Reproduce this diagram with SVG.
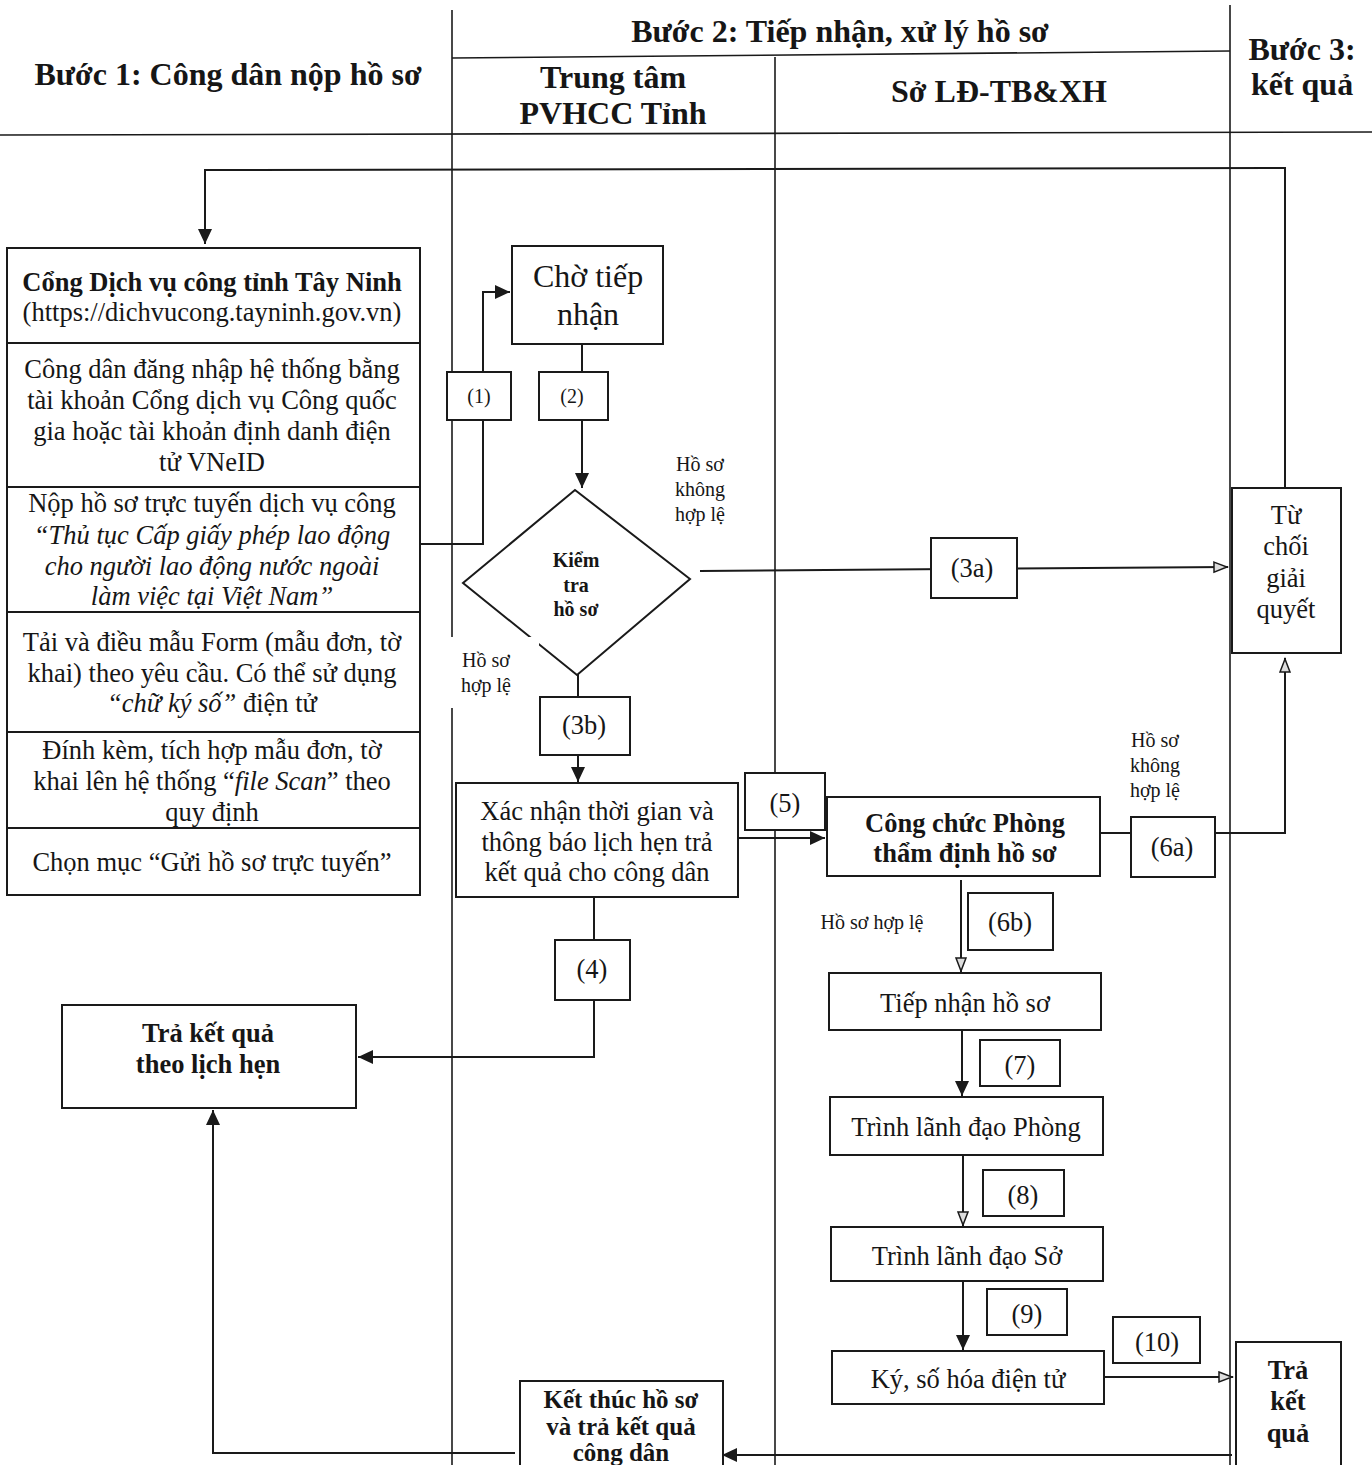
<svg xmlns="http://www.w3.org/2000/svg" width="1372" height="1465" viewBox="0 0 1372 1465">
<defs>
<style>
.t{font-family:"Liberation Serif","Times New Roman",serif;fill:#161616;text-anchor:middle}
.b{font-weight:bold}
.i{font-style:italic}
.s25{font-size:26.5px}
.s28{font-size:32px}
.s20{font-size:20px}
.box{fill:#fff;stroke:#1a1a1a;stroke-width:2}
.ln{fill:none;stroke:#1a1a1a;stroke-width:2}
.lane{fill:none;stroke:#1a1a1a;stroke-width:1.6}
</style>
<marker id="af" markerUnits="userSpaceOnUse" markerWidth="16" markerHeight="14" refX="15" refY="7" orient="auto">
<path d="M0,0 L15,7 L0,14 z" fill="#1a1a1a"/>
</marker>
<marker id="ao" markerUnits="userSpaceOnUse" markerWidth="16" markerHeight="14" refX="15" refY="6" orient="auto">
<path d="M1,1 L14,6 L1,11 z" fill="#ddd" stroke="#1a1a1a" stroke-width="1.5"/>
</marker>
</defs>
<rect width="1372" height="1465" fill="#fff"/>

<g id="lanes">
<line class="lane" x1="452" y1="10" x2="452" y2="1465"/>
<line class="lane" x1="775" y1="57" x2="775" y2="1465"/>
<line class="lane" x1="1230" y1="5" x2="1230" y2="1465"/>
<line class="lane" x1="452" y1="58" x2="1230" y2="51" stroke-width="2.2"/>
<line class="lane" x1="0" y1="135" x2="1372" y2="132" stroke-width="2.2"/>
<text class="t b s28" x="228" y="85">Bước 1: Công dân nộp hồ sơ</text>
<text class="t b s28" x="840" y="42">Bước 2: Tiếp nhận, xử lý hồ sơ</text>
<text class="t b s28" x="613" y="88">Trung tâm</text>
<text class="t b s28" x="613" y="124">PVHCC Tỉnh</text>
<text class="t s28" x="999" y="102" style="font-weight:600">Sở LĐ-TB&amp;XH</text>
<text class="t b s28" x="1302" y="60">Bước 3:</text>
<text class="t b s28" x="1302" y="95">kết quả</text>
</g>

<g id="connectors">
<polyline class="ln" points="1285,488 1285,168 205,170 205,244" marker-end="url(#af)"/>
<polyline class="ln" points="420,544 483,544 483,292 510,292" marker-end="url(#af)"/>
<polyline class="ln" points="582,344 582,488" marker-end="url(#af)"/>
<polyline class="ln" points="700,571 1228,567" marker-end="url(#ao)"/>
<line class="ln" x1="578" y1="657" x2="578" y2="697"/>
<polyline class="ln" points="578,755 578,782" marker-end="url(#af)"/>
<polyline class="ln" points="738,838 825,838" marker-end="url(#af)"/>
<polyline class="ln" points="1100,833 1285,833 1285,658" marker-end="url(#ao)"/>
<polyline class="ln" points="961,880 961,972" marker-end="url(#ao)"/>
<polyline class="ln" points="962,1030 962,1096" marker-end="url(#af)"/>
<polyline class="ln" points="963,1155 963,1226" marker-end="url(#ao)"/>
<polyline class="ln" points="963,1281 963,1350" marker-end="url(#af)"/>
<polyline class="ln" points="1104,1377 1233,1377" marker-end="url(#ao)"/>
<polyline class="ln" points="594,897 594,1057 358,1057" marker-end="url(#af)"/>
<polyline class="ln" points="1232,1455 722,1455" marker-end="url(#af)"/>
<polyline class="ln" points="515,1453 213,1453 213,1110" marker-end="url(#af)"/>
</g>

<g id="cong-dich-vu">
<rect class="box" x="7" y="248" width="413" height="647"/>
<line class="ln" x1="7" y1="343" x2="420" y2="343"/>
<line class="ln" x1="7" y1="487" x2="420" y2="487"/>
<line class="ln" x1="7" y1="612" x2="420" y2="612"/>
<line class="ln" x1="7" y1="732" x2="420" y2="732"/>
<line class="ln" x1="7" y1="828" x2="420" y2="828"/>
<text class="t b s25" x="212" y="291">Cổng Dịch vụ công tỉnh Tây Ninh</text>
<text class="t s25" x="212" y="321">(https://dichvucong.tayninh.gov.vn)</text>
<text class="t s25" x="212" y="378">Công dân đăng nhập hệ thống bằng</text>
<text class="t s25" x="212" y="409">tài khoản Cổng dịch vụ Công quốc</text>
<text class="t s25" x="212" y="440">gia hoặc tài khoản định danh điện</text>
<text class="t s25" x="212" y="471">tử VNeID</text>
<text class="t s25" x="212" y="512">Nộp hồ sơ trực tuyến dịch vụ công</text>
<text class="t i s25" x="212" y="544">“Thủ tục Cấp giấy phép lao động</text>
<text class="t i s25" x="212" y="575">cho người lao động nước ngoài</text>
<text class="t i s25" x="212" y="605">làm việc tại Việt Nam”</text>
<text class="t s25" x="212" y="651">Tải và điều mẫu Form (mẫu đơn, tờ</text>
<text class="t s25" x="212" y="682">khai) theo yêu cầu. Có thể sử dụng</text>
<text class="t s25" x="212" y="712"><tspan class="i">“chữ ký số”</tspan> điện tử</text>
<text class="t s25" x="212" y="759">Đính kèm, tích hợp mẫu đơn, tờ</text>
<text class="t s25" x="212" y="790">khai lên hệ thống “<tspan class="i">file Scan</tspan>” theo</text>
<text class="t s25" x="212" y="821">quy định</text>
<text class="t s25" x="212" y="871">Chọn mục “Gửi hồ sơ trực tuyến”</text>
</g>

<g id="label-1">
<rect class="box" x="447" y="372" width="64" height="48"/>
<text class="t s20" x="479" y="403">(1)</text>
</g>

<g id="cho-tiep-nhan">
<rect class="box" x="512" y="246" width="151" height="98"/>
<text class="t" style="font-size:32px" x="588" y="287">Chờ tiếp</text>
<text class="t" style="font-size:32px" x="588" y="325">nhận</text>
</g>

<g id="label-2">
<rect class="box" x="539" y="372" width="69" height="48"/>
<text class="t s20" x="572" y="403">(2)</text>
</g>

<g id="kiem-tra">
<polygon class="box" points="575,490 690,579 577,675 463,583"/>
<text class="t b s20" x="576" y="567">Kiểm</text>
<text class="t b s20" x="576" y="592">tra</text>
<text class="t b s20" x="576" y="616">hồ sơ</text>
</g>

<g id="label-hop-le">
<rect x="444" y="637" width="95" height="71" fill="#fff"/>
<text class="t s20" x="486" y="667">Hồ sơ</text>
<text class="t s20" x="486" y="692">hợp lệ</text>
</g>

<g id="label-khong-hop-le-1">
<text class="t s20" x="700" y="471">Hồ sơ</text>
<text class="t s20" x="700" y="496">không</text>
<text class="t s20" x="700" y="521">hợp lệ</text>
</g>

<g id="label-3a">
<rect class="box" x="931" y="538" width="86" height="60"/>
<text class="t s25" x="972" y="577">(3a)</text>
</g>

<g id="tu-choi">
<rect class="box" x="1232" y="488" width="109" height="165"/>
<text class="t s25" x="1286" y="524">Từ</text>
<text class="t s25" x="1286" y="555">chối</text>
<text class="t s25" x="1286" y="587">giải</text>
<text class="t s25" x="1286" y="618">quyết</text>
</g>

<g id="label-3b">
<rect class="box" x="540" y="697" width="90" height="58"/>
<text class="t s25" x="584" y="734">(3b)</text>
</g>

<g id="xac-nhan">
<rect class="box" x="456" y="783" width="282" height="114"/>
<text class="t s25" x="597" y="820">Xác nhận thời gian và</text>
<text class="t s25" x="597" y="851">thông báo lịch hẹn trả</text>
<text class="t s25" x="597" y="881">kết quả cho công dân</text>
</g>

<g id="label-5">
<rect class="box" x="745" y="773" width="80" height="57"/>
<text class="t s25" x="785" y="812">(5)</text>
</g>

<g id="cong-chuc">
<rect class="box" x="827" y="797" width="273" height="79"/>
<text class="t b s25" x="965" y="832">Công chức Phòng</text>
<text class="t b s25" x="965" y="862">thẩm định hồ sơ</text>
</g>

<g id="label-khong-hop-le-2">
<text class="t s20" x="1155" y="747">Hồ sơ</text>
<text class="t s20" x="1155" y="772">không</text>
<text class="t s20" x="1155" y="797">hợp lệ</text>
</g>

<g id="label-6a">
<rect class="box" x="1131" y="817" width="84" height="60"/>
<text class="t s25" x="1172" y="856">(6a)</text>
</g>

<g id="label-hop-le-2">
<text class="t s20" x="872" y="929">Hồ sơ hợp lệ</text>
</g>

<g id="label-6b">
<rect class="box" x="968" y="893" width="85" height="57"/>
<text class="t s25" x="1010" y="931">(6b)</text>
</g>

<g id="tiep-nhan-ho-so">
<rect class="box" x="829" y="973" width="272" height="57"/>
<text class="t s25" x="965" y="1012">Tiếp nhận hồ sơ</text>
</g>

<g id="label-7">
<rect class="box" x="980" y="1040" width="80" height="46"/>
<text class="t s25" x="1020" y="1074">(7)</text>
</g>

<g id="trinh-phong">
<rect class="box" x="830" y="1097" width="273" height="58"/>
<text class="t s25" x="966" y="1136">Trình lãnh đạo Phòng</text>
</g>

<g id="label-8">
<rect class="box" x="983" y="1170" width="81" height="46"/>
<text class="t s25" x="1023" y="1204">(8)</text>
</g>

<g id="trinh-so">
<rect class="box" x="831" y="1227" width="272" height="54"/>
<text class="t s25" x="967" y="1265">Trình lãnh đạo Sở</text>
</g>

<g id="label-9">
<rect class="box" x="987" y="1289" width="80" height="46"/>
<text class="t s25" x="1027" y="1323">(9)</text>
</g>

<g id="ky-so-hoa">
<rect class="box" x="832" y="1351" width="272" height="53"/>
<text class="t s25" x="968" y="1388">Ký, số hóa điện tử</text>
</g>

<g id="label-10">
<rect class="box" x="1113" y="1317" width="87" height="46"/>
<text class="t s25" x="1157" y="1351">(10)</text>
</g>

<g id="tra-ket-qua-phai">
<rect class="box" x="1236" y="1342" width="105" height="130"/>
<text class="t b s25" x="1288" y="1379">Trả</text>
<text class="t b s25" x="1288" y="1410">kết</text>
<text class="t b s25" x="1288" y="1442">quả</text>
</g>

<g id="label-4">
<rect class="box" x="555" y="940" width="75" height="60"/>
<text class="t s25" x="592" y="978">(4)</text>
</g>

<g id="tra-ket-qua-lich-hen">
<rect class="box" x="62" y="1005" width="294" height="103"/>
<text class="t b s25" x="208" y="1042">Trả kết quả</text>
<text class="t b s25" x="208" y="1073">theo lịch hẹn</text>
</g>

<g id="ket-thuc">
<rect class="box" x="520" y="1381" width="203" height="95"/>
<text class="t b" style="font-size:25px" x="621" y="1408">Kết thúc hồ sơ</text>
<text class="t b" style="font-size:25px" x="621" y="1435">và trả kết quả</text>
<text class="t b" style="font-size:25px" x="621" y="1461">công dân</text>
</g>
</svg>
